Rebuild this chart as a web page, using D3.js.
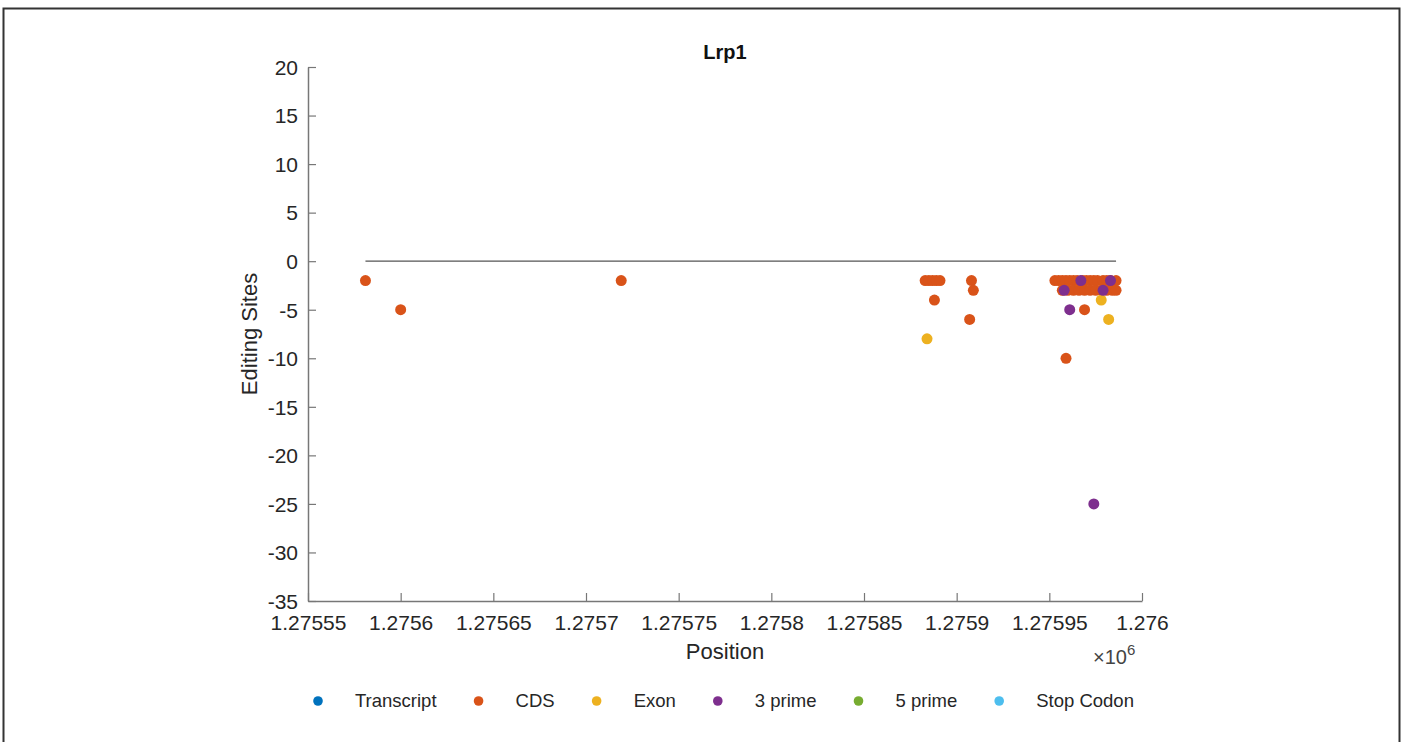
<!DOCTYPE html>
<html><head><meta charset="utf-8">
<script src="https://cdn.jsdelivr.net/npm/d3@7"></script>
<style>body{margin:0;background:#fff;} svg{display:block;font-family:"Liberation Sans",Arial,sans-serif;}</style>
</head><body>
<svg id="c" width="1405" height="742"></svg>
<script>
const title = "Lrp1";
const xTicks = [1275550,1275600,1275650,1275700,1275750,1275800,1275850,1275900,1275950,1276000];
const xTickLabels = ["1.27555","1.2756","1.27565","1.2757","1.27575","1.2758","1.27585","1.2759","1.27595","1.276"];
const yTicks = [20,15,10,5,0,-5,-10,-15,-20,-25,-30,-35];
const categories = ["Transcript","CDS","Exon","3 prime","5 prime","Stop Codon"];
const colors = ["#0072BD","#D95319","#EDB120","#7E2F8E","#77AC30","#4DBEEE"];
// series: positions and editing-site values
const cdsX = [1275581,1275600,1275719,
  1275883,1275885,1275887,1275889,1275891,1275888,1275908,1275909,1275907,
  1275953,1275955,1275957,1275959,1275961,1275963,1275965,1275968,1275970,1275972,1275974,1275976,1275979,1275981,1275983,1275986,
  1275957,1275960,1275963,1275966,1275969,1275972,1275975,1275978,1275981,1275984,1275986,
  1275969,1275959];
const cdsY = [-2,-5,-2,
  -2,-2,-2,-2,-2,-4,-2,-3,-6,
  -2,-2,-2,-2,-2,-2,-2,-2,-2,-2,-2,-2,-2,-2,-2,-2,
  -3,-3,-3,-3,-3,-3,-3,-3,-3,-3,-3,
  -5,-10];
const exonX = [1275884,1275978,1275982];
const exonY = [-8,-4,-6];
const prime3X = [1275967,1275983,1275958,1275979,1275961,1275974];
const prime3Y = [-2,-2,-3,-3,-5,-25];
const lineX = [1275581,1275986];

const svg = d3.select("#c");
// figure frame
svg.append("rect").attr("x",3.5).attr("y",8.5).attr("width",1396).attr("height",745)
  .attr("fill","none").attr("stroke","#333").attr("stroke-width",2);

const x = d3.scaleLinear().domain([1275550,1276000]).range([308,1142]);
const y = d3.scaleLinear().domain([-35,20]).range([601,67]);
const axisCol = "#777", textCol = "#262626";

const gx = svg.append("g").attr("transform","translate(0,601)")
  .call(d3.axisBottom(x).tickValues(xTicks).tickFormat((d,i)=>xTickLabels[i]).tickSize(-8).tickSizeOuter(0).tickPadding(14));
const gy = svg.append("g").attr("transform","translate(308,0)")
  .call(d3.axisLeft(y).tickValues(yTicks).tickFormat(d=>String(d)).tickSize(-8).tickSizeOuter(0).tickPadding(10));
[gx,gy].forEach(g=>{
  g.select(".domain").attr("stroke",axisCol).attr("stroke-width",1.5);
  g.selectAll(".tick line").attr("stroke",axisCol).attr("stroke-width",1.2);
  g.selectAll(".tick text").attr("fill",textCol).attr("font-size",21).attr("font-family","Liberation Sans, Arial, sans-serif");
});
gy.selectAll(".tick text").attr("dy","0.35em");

// exponent label
const ex = svg.append("text").attr("x",1093).attr("y",664).attr("fill","#444").attr("font-size",20);
ex.append("tspan").text("\u00d710");
ex.append("tspan").attr("dy",-9).attr("font-size",15).text("6");

// title & labels
svg.append("text").attr("x",725).attr("y",59).attr("text-anchor","middle").attr("font-weight","bold")
  .attr("font-size",20).attr("fill","#111").text(title);
svg.append("text").attr("x",725).attr("y",659).attr("text-anchor","middle").attr("font-size",22).attr("fill",textCol).text("Position");
svg.append("text").attr("transform","translate(257,334) rotate(-90)").attr("text-anchor","middle")
  .attr("font-size",22).attr("fill",textCol).text("Editing Sites");

// zero line
svg.append("line").attr("x1",x(lineX[0])).attr("x2",x(lineX[1])).attr("y1",y(0)).attr("y2",y(0))
  .attr("stroke","#555").attr("stroke-width",1.3);

function plot(xs,ys,col){
  svg.append("g").selectAll("circle").data(xs).join("circle")
    .attr("cx",d=>x(d)).attr("cy",(d,i)=>y(ys[i])).attr("r",5.5).attr("fill",col);
}
plot(cdsX,cdsY,colors[1]);
plot(exonX,exonY,colors[2]);
plot(prime3X,prime3Y,colors[3]);

// legend (flowed horizontally)
const lg = svg.append("g");
let cx = 318;
categories.forEach((c,i)=>{
  lg.append("circle").attr("cx",cx).attr("cy",701).attr("r",4.8).attr("fill",colors[i]);
  const t = lg.append("text").attr("x",cx+37).attr("y",707).attr("font-size",18.5).attr("fill",textCol).text(c);
  cx = cx + 37 + t.node().getComputedTextLength() + 42;
});
</script>
</body></html>
